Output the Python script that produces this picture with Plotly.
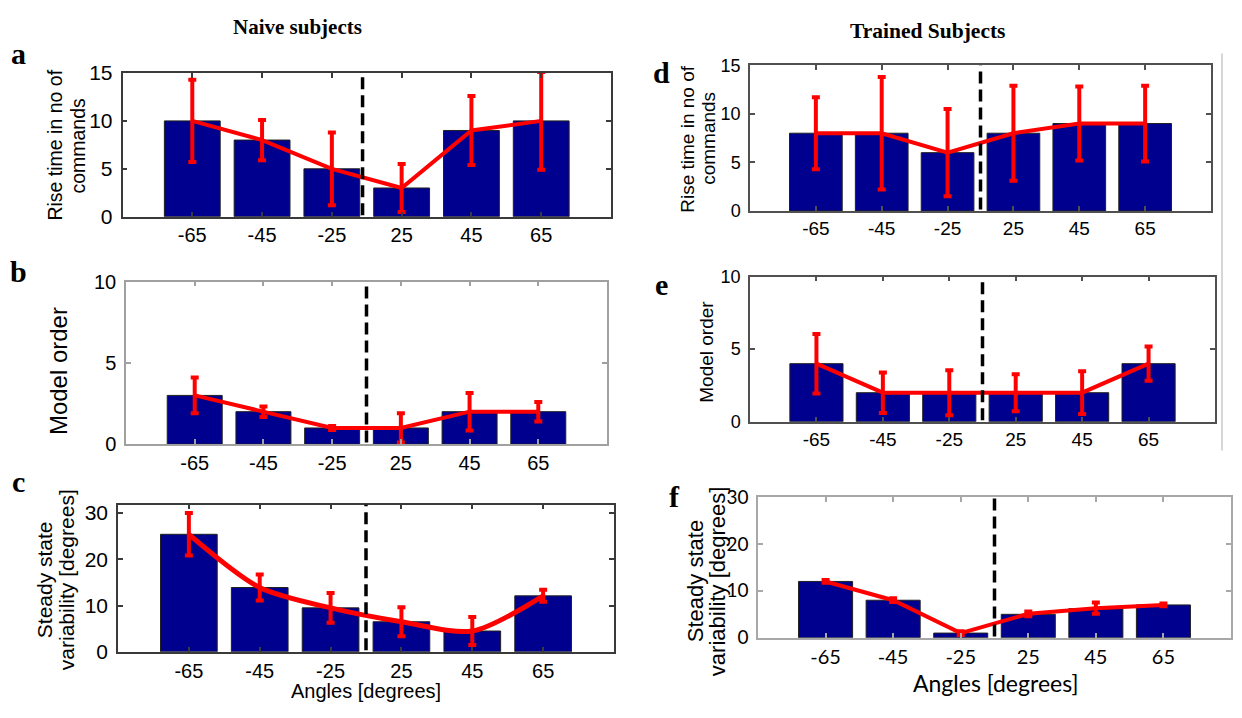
import plotly.graph_objects as go

W, H = 1242, 718

# ---------------- data ----------------
angles = ["-65", "-45", "-25", "25", "45", "65"]

a_bars = [10, 8, 5, 3, 9, 10]
a_mean = [10, 8, 5, 3, 9, 10]
a_err = [4.3, 2.1, 3.8, 2.5, 3.6, 5.1]

b_bars = [3, 2, 1, 1, 2, 2]
b_mean = [3, 2, 1, 1, 2, 2]
b_err = [1.1, 0.32, 0.12, 0.9, 1.15, 0.6]

c_bars = [25.4, 13.9, 9.5, 6.5, 4.5, 12.1]
c_mean = [25.4, 13.9, 9.5, 6.5, 4.5, 12.1]
c_err = [4.6, 2.8, 3.2, 3.15, 3.0, 1.3]

d_bars = [8, 8, 6, 8, 9, 9]
d_mean = [8, 8, 6, 8, 9, 9]
d_err = [3.7, 5.8, 4.5, 4.9, 3.8, 3.9]

e_bars = [4, 2, 2, 2, 2, 4]
e_mean = [4, 2, 2, 2, 2, 4]
e_err = [2.05, 1.4, 1.55, 1.27, 1.47, 1.18]

f_bars = [12, 8, 1, 5, 6.2, 7]
f_mean = [12, 8, 1, 5.1, 6.3, 7.0]
f_err = [0.3, 0.4, 0.4, 0.5, 1.2, 0.3]

xpos = list(range(1, len(angles) + 1))

BAR = "#00008F"
RED = "#FF0000"
ARIAL = "Liberation Sans, Arial, sans-serif"
SERIF = "Liberation Serif, Times New Roman, serif"
CAL = "Lato, Carlito, sans-serif"

# panel geometry in pixels: (x0, x1, y0_top, y1_bottom)
panels = {
    "a": dict(box=(122.5, 611, 63, 211.5), yr=[0, 15], yt=[0, 5, 10, 15], bars=a_bars, mean=a_mean, err=a_err,
              frame="#3a3a3a", xfs=20, yfs=21, font=ARIAL, dash=3.44, lw=4, shape="linear"),
    "b": dict(box=(126, 607, 278.5, 446.5), yr=[0, 10], yt=[0, 5, 10], bars=b_bars, mean=b_mean, err=b_err,
              frame="#a0a0a0", xfs=20, yfs=20, font=ARIAL, dash=3.5, lw=4, shape="linear"),
    "c": dict(box=(118, 614, 509, 661), yr=[0, 31.8], yt=[0, 10, 20, 30], bars=c_bars, mean=c_mean, err=c_err,
              frame="#3a3a3a", xfs=20, yfs=21, font=ARIAL, dash=3.5, lw=5, shape="spline"),
    "d": dict(box=(750, 1211, 55, 205.5), yr=[0, 15], yt=[0, 5, 10, 15], bars=d_bars, mean=d_mean, err=d_err,
              frame="#505050", xfs=19, yfs=18, font=ARIAL, dash=3.5, lw=4, shape="linear"),
    "e": dict(box=(750, 1215, 273.3, 423.3), yr=[0, 10], yt=[0, 5, 10], bars=e_bars, mean=e_mean, err=e_err,
              frame="#505050", xfs=19, yfs=18, font=ARIAL, dash=3.5, lw=4, shape="linear"),
    "f": dict(box=(758, 1231, 501, 646.5), yr=[0, 30], yt=[0, 10, 20, 30], bars=f_bars, mean=f_mean, err=f_err,
              frame="#a8a8a8", xfs=20, yfs=19, font=CAL, dash=3.5, lw=4, shape="linear"),
}

fig = go.Figure()
layout = dict(width=W, height=H, autosize=False, margin=dict(l=0, r=0, t=0, b=0, pad=0),
              paper_bgcolor="white", plot_bgcolor="white", showlegend=False, bargap=0.2)

shapes = []
for i, (key, p) in enumerate(panels.items(), start=1):
    x0, x1, y0, y1 = p["box"]
    xa = "x" if i == 1 else f"x{i}"
    ya = "y" if i == 1 else f"y{i}"
    fig.add_trace(go.Bar(x=xpos, y=p["bars"], width=0.8, marker=dict(color=BAR, line=dict(color="#202020", width=1)),
                         xaxis=xa, yaxis=ya, hoverinfo="skip"))
    fig.add_trace(go.Scatter(x=xpos, y=p["mean"], mode="lines",
                             line=dict(color=RED, width=p["lw"], shape=p["shape"], smoothing=0.8),
                             error_y=dict(type="data", array=p["err"], visible=True, color=RED, thickness=4, width=4),
                             xaxis=xa, yaxis=ya, hoverinfo="skip", cliponaxis=True))
    axis_common = dict(showgrid=False, zeroline=False, showline=True, linecolor=p["frame"], linewidth=1.5,
                       mirror="ticks", ticks="inside", ticklen=5, tickwidth=1.5, tickcolor=p["frame"],
                       tickfont=dict(family=p["font"], size=p["xfs"], color="black"))
    layout["xaxis" if i == 1 else f"xaxis{i}"] = dict(
        axis_common, domain=[x0 / W, x1 / W], range=[0, 7], tickvals=xpos, ticktext=angles,
        anchor=ya, fixedrange=True, ticklabelstandoff=0)
    ya_d = dict(axis_common)
    ya_d["tickfont"] = dict(family=p["font"], size=p["yfs"], color="black")
    layout["yaxis" if i == 1 else f"yaxis{i}"] = dict(
        ya_d, domain=[1 - y1 / H, 1 - y0 / H], range=p["yr"], tickvals=p["yt"], anchor=xa,
        fixedrange=True, ticklabelstandoff=4)
    shapes.append(dict(type="line", xref=xa, yref=f"{ya} domain", x0=p["dash"], x1=p["dash"], y0=0.01, y1=1,
                       line=dict(color="black", width=3.5, dash="12px,6px")))

# separator line on the right
shapes.append(dict(type="line", xref="paper", yref="paper", x0=1222 / W, x1=1222 / W, y0=1 - 43 / H, y1=1 - 453 / H,
                   line=dict(color="#c8c8c8", width=1.5)))
layout["shapes"] = shapes


def ann(text, x, y, size, family, angle=0, bold=False, color="black"):
    t = f"<b>{text}</b>" if bold else text
    return dict(text=t, x=x / W, y=1 - y / H, xref="paper", yref="paper", showarrow=False, textangle=angle,
                font=dict(family=family, size=size, color=color), xanchor="center", yanchor="middle")


annotations = [
    ann("Naive subjects", 297, 15, 21, SERIF, bold=True),
    ann("Trained Subjects", 928, 20, 21.5, SERIF, bold=True),
    ann("a", 18, 43, 30, SERIF, bold=True),
    ann("b", 18, 268, 30, SERIF, bold=True),
    ann("c", 18, 485, 30, SERIF, bold=True),
    ann("d", 661, 62, 30, SERIF, bold=True),
    ann("e", 661, 282, 30, SERIF, bold=True),
    ann("f", 674, 501, 30, SERIF, bold=True),
    # left column y titles
    ann("Rise time in no of", 55, 138, 19.5, ARIAL, angle=-90),
    ann("commands", 78, 138, 19.5, ARIAL, angle=-90),
    ann("Model order", 58, 371, 24, ARIAL, angle=-90),
    ann("Steady state", 44, 587, 21, ARIAL, angle=-90),
    ann("variability [degrees]", 66, 587, 21, ARIAL, angle=-90),
    ann("Angles [degrees]", 366, 701, 20, ARIAL),
    # right column y titles
    ann("Rise time in no of", 688, 131, 19, ARIAL, angle=-90),
    ann("commands", 709, 131, 19, ARIAL, angle=-90),
    ann("Model order", 707, 351, 19, ARIAL, angle=-90),
    ann("Steady state", 695, 588, 22, ARIAL, angle=-90),
    ann("variability [degrees]", 717, 588, 22, ARIAL, angle=-90),
    ann("Angles [degrees]", 995, 693, 23, CAL),
]
layout["annotations"] = annotations

fig.update_layout(**layout)
fig.write_html("out.html", config={"displayModeBar": False},
               post_script="document.body.style.margin='0';")
